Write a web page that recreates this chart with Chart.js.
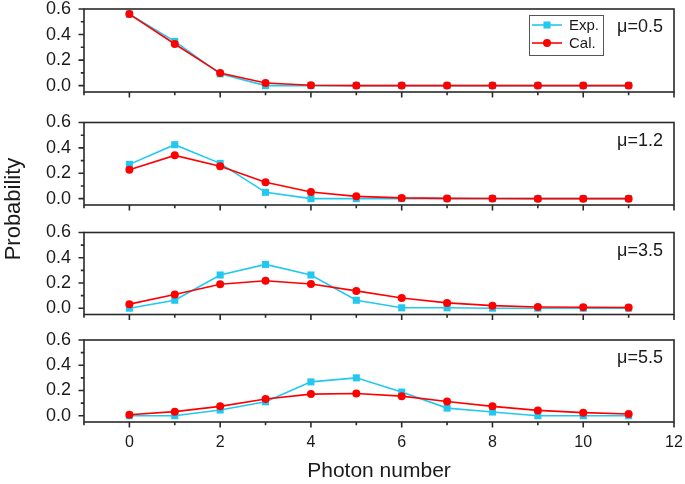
<!DOCTYPE html>
<html>
<head>
<meta charset="utf-8">
<script src="https://cdn.jsdelivr.net/npm/chart.js@4/dist/chart.umd.min.js"></script>
<style>
html,body{margin:0;padding:0;background:#fff;}
#wrap{width:685px;height:484px;position:relative;}
</style>
</head>
<body>
<div id="wrap"><canvas id="c" width="685" height="484"></canvas></div>
<script>
// ---------- data ----------
const photonNumbers = [0, 1, 2, 3, 4, 5, 6, 7, 8, 9, 10, 11];
const muLabels = ['μ=0.5', 'μ=1.2', 'μ=3.5', 'μ=5.5'];
const seriesNames = ['Exp.', 'Cal.'];

const expMu05 = [0.56, 0.346, 0.092, 0.0, 0.0, 0.0, 0.0, 0.0, 0.0, 0.0, 0.0, 0.0];
const calMu05 = [0.56, 0.326, 0.098, 0.021, 0.003, 0.0, 0.0, 0.0, 0.0, 0.0, 0.0, 0.0];

const expMu12 = [0.27, 0.425, 0.278, 0.05, 0.0, 0.0, 0.0, 0.0, 0.0, 0.0, 0.0, 0.0];
const calMu12 = [0.227, 0.341, 0.256, 0.129, 0.053, 0.018, 0.006, 0.002, 0.001, 0.0, 0.0, 0.0];

const expMu35 = [0.0, 0.063, 0.263, 0.347, 0.263, 0.063, 0.003, 0.003, 0.0, 0.0, 0.0, 0.0];
const calMu35 = [0.032, 0.108, 0.19, 0.218, 0.192, 0.137, 0.081, 0.042, 0.02, 0.01, 0.007, 0.005];

const expMu55 = [0.0, 0.0, 0.045, 0.11, 0.268, 0.3, 0.187, 0.06, 0.029, 0.0, 0.0, 0.0];
const calMu55 = [0.008, 0.032, 0.074, 0.132, 0.171, 0.176, 0.155, 0.113, 0.074, 0.042, 0.024, 0.013];

const xTickValues = [0, 2, 4, 6, 8, 10, 12];
const xMinorTickValues = [-1, 1, 3, 5, 7, 9, 11];
const yTickValues = [0, 0.2, 0.4, 0.6];
const yMinorTickValues = [0.1, 0.3, 0.5];
const xTitle = 'Photon number';
const yTitle = 'Probability';

// ---------- styles ----------
const FONT = "'Liberation Sans', Arial, sans-serif";
const TXT = '#1a1a1a';
const CYAN = '#22C8F0';
const RED = '#FF0000';
const FRAME = '#2a2a2a';

const panelSeries = [
  [expMu05, calMu05],
  [expMu12, calMu12],
  [expMu35, calMu35],
  [expMu55, calMu55]
];

const datasets = [];
panelSeries.forEach((pair, i) => {
  datasets.push({
    label: seriesNames[0],
    data: photonNumbers.map((x, j) => ({x: x, y: pair[0][j]})),
    xAxisID: 'x', yAxisID: 'p' + i,
    borderColor: CYAN, backgroundColor: CYAN,
    pointBackgroundColor: CYAN, pointBorderColor: CYAN,
    pointStyle: 'rect', pointRadius: 5, pointBorderWidth: 0,
    borderWidth: 1.6, tension: 0, fill: false, order: 1, clip: false
  });
  datasets.push({
    label: seriesNames[1],
    data: photonNumbers.map((x, j) => ({x: x, y: pair[1][j]})),
    xAxisID: 'x', yAxisID: 'p' + i,
    borderColor: RED, backgroundColor: RED,
    pointBackgroundColor: RED, pointBorderColor: RED,
    pointStyle: 'circle', pointRadius: 4, pointBorderWidth: 0,
    borderWidth: 1.6, tension: 0, fill: false, order: 0, clip: false
  });
});

function noPad(s) { s.paddingTop = 0; s.paddingBottom = 0; s.paddingLeft = 0; s.paddingRight = 0; }

function panelAxis(weight, stackWeight) {
  return {
    type: 'linear', position: 'left', stack: 'panels', stackWeight: stackWeight, weight: weight,
    min: -0.05, max: 0.6,
    afterBuildTicks: s => { s.ticks = yTickValues.map(v => ({value: v})); },
    afterFit: s => { s.width = 84; noPad(s); },
    grid: {display: false, drawTicks: false},
    border: {display: false},
    ticks: {padding: 13, autoSkip: false, font: {size: 18, family: FONT}, color: TXT, callback: v => Number(v).toFixed(1)}
  };
}
function gapAxis(weight, stackWeight, withTitle) {
  return {
    type: 'linear', position: 'left', stack: 'panels', stackWeight: stackWeight, weight: weight,
    display: true,
    afterFit: s => { s.width = 84; noPad(s); },
    grid: {display: false, drawTicks: false},
    border: {display: false},
    ticks: {display: false},
    title: withTitle ? {display: true, text: yTitle, color: TXT, font: {size: 22, family: FONT}, padding: {top: 1, bottom: 0}} : {display: false}
  };
}

const framePlugin = {
  id: 'panelFrames',
  afterDraw(chart) {
    const ctx = chart.ctx;
    const xs = chart.scales.x;
    const L = chart.chartArea.left, R = chart.chartArea.right;
    ctx.save();
    for (let i = 0; i < 4; i++) {
      const s = chart.scales['p' + i];
      const T = s.top, B = s.bottom;
      ctx.strokeStyle = FRAME;
      ctx.lineWidth = 1.6;
      ctx.strokeRect(L, T, R - L, B - T);
      ctx.beginPath();
      xTickValues.forEach(v => { const px = xs.getPixelForValue(v); ctx.moveTo(px, B); ctx.lineTo(px, B + 5.5); });
      xMinorTickValues.forEach(v => { const px = xs.getPixelForValue(v); ctx.moveTo(px, B); ctx.lineTo(px, B + 3.2); });
      yTickValues.forEach(v => { const py = s.getPixelForValue(v); ctx.moveTo(L, py); ctx.lineTo(L - 5.5, py); });
      yMinorTickValues.forEach(v => { const py = s.getPixelForValue(v); ctx.moveTo(L, py); ctx.lineTo(L - 3.2, py); });
      ctx.stroke();
      ctx.fillStyle = TXT;
      ctx.font = '18px ' + FONT;
      ctx.textAlign = 'right';
      ctx.textBaseline = 'middle';
      ctx.fillText(muLabels[i], R - 11, T + 18.5);
    }
    // legend in top panel
    const s0 = chart.scales.p0;
    const bx = R - 145, by = s0.top + 6, bw = 74, bh = 40;
    ctx.fillStyle = '#ffffff';
    ctx.fillRect(bx, by, bw, bh);
    ctx.strokeStyle = '#555';
    ctx.lineWidth = 1;
    ctx.strokeRect(bx + 0.5, by + 0.5, bw, bh);
    const items = [
      {label: seriesNames[0], color: CYAN, style: 'rect', r: 5},
      {label: seriesNames[1], color: RED, style: 'circle', r: 4}
    ];
    items.forEach((it, k) => {
      const cy = by + 10 + k * 18;
      ctx.strokeStyle = it.color;
      ctx.lineWidth = 1.6;
      ctx.beginPath();
      ctx.moveTo(bx + 3, cy); ctx.lineTo(bx + 33, cy);
      ctx.stroke();
      ctx.fillStyle = it.color;
      Chart.helpers.drawPoint(ctx, {pointStyle: it.style, radius: it.r, borderWidth: 0, rotation: 0}, bx + 18, cy);
      ctx.fillStyle = TXT;
      ctx.font = '15px ' + FONT;
      ctx.textAlign = 'left';
      ctx.textBaseline = 'middle';
      ctx.fillText(it.label, bx + 40, cy + 0.5);
    });
    ctx.restore();
  }
};

new Chart(document.getElementById('c'), {
  type: 'line',
  data: {datasets: datasets},
  options: {
    responsive: false,
    animation: false,
    devicePixelRatio: 1,
    layout: {padding: {left: 0, right: 11, top: 9, bottom: 0}},
    plugins: {legend: {display: false}, tooltip: {enabled: false}},
    scales: {
      x: {
        type: 'linear', position: 'bottom', min: -1, max: 12,
        afterBuildTicks: s => { s.ticks = xTickValues.map(v => ({value: v})); },
        afterFit: s => { s.height = 62; noPad(s); },
        grid: {display: false, drawTicks: false},
        border: {display: false},
        ticks: {padding: 11, font: {size: 16, family: FONT}, color: TXT, maxRotation: 0, autoSkip: false},
        title: {display: true, text: xTitle, color: TXT, font: {size: 21, family: FONT}, padding: {top: 0, bottom: 0}}
      },
      p0: panelAxis(80, 83),
      g1: gapAxis(70, 30.5, false),
      p1: panelAxis(60, 82.5),
      g2a: gapAxis(50, 8, true),
      g2b: gapAxis(40, 19.5, false),
      p2: panelAxis(30, 82),
      g3: gapAxis(20, 25.5, false),
      p3: panelAxis(10, 82)
    }
  },
  plugins: [framePlugin]
});
</script>
</body>
</html>
